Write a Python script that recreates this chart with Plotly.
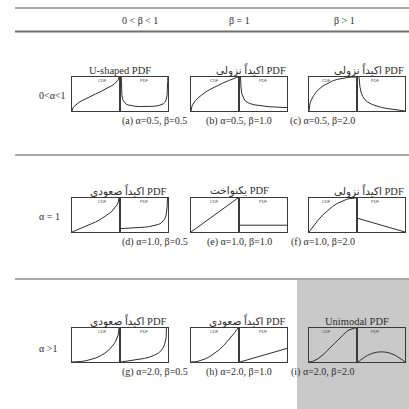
import plotly.graph_objects as go

# x positions along each small panel (0..1)
X_GRID = [0, 0.005, 0.01, 0.02, 0.04, 0.07, 0.1, 0.15, 0.2, 0.3, 0.4, 0.5,
          0.6, 0.7, 0.8, 0.85, 0.9, 0.93, 0.96, 0.98, 0.99, 0.995, 1]

# curves (CDF on 0..1, PDF on 0..5)
CDF_A = [0, .045, .064, .09, .128, .17, .205, .253, .295, .369, .436, .5,
         .564, .631, .705, .747, .795, .83, .872, .91, .936, .955, 1]
PDF_A = [6, 4.51, 3.2, 2.27, 1.62, 1.25, 1.06, .891, .796, .695, .65, .637,
         .65, .695, .796, .891, 1.06, 1.25, 1.62, 2.27, 3.2, 4.51, 6]
CDF_B = [0, .071, .1, .141, .2, .265, .316, .387, .447, .548, .632, .707,
         .775, .837, .894, .922, .949, .964, .98, .99, .995, .997, 1]
PDF_B = [7, 7.07, 5, 3.54, 2.5, 1.89, 1.58, 1.29, 1.12, .913, .791, .707,
         .645, .598, .559, .542, .527, .518, .51, .505, .503, .501, .5]
CDF_C = [0, .106, .15, .211, .296, .388, .459, .552, .626, .739, .822, .884,
         .93, .962, .984, .991, .996, .998, .999, 1, 1, 1, 1]
PDF_C = [7, 10.5, 7.43, 5.2, 3.6, 2.64, 2.13, 1.65, 1.34, .959, .711, .53,
         .387, .269, .168, .122, .079, .054, .031, .015, .008, .004, 0]
CDF_D = [0, .003, .005, .01, .02, .036, .051, .078, .106, .163, .225, .293,
         .368, .452, .553, .613, .684, .735, .8, .859, .9, .929, 1]
PDF_D = [.5, .501, .503, .505, .51, .518, .527, .542, .559, .598, .645, .707,
         .791, .913, 1.12, 1.29, 1.58, 1.89, 2.5, 3.54, 5, 7.07, 7]
CDF_E = [0, .005, .01, .02, .04, .07, .1, .15, .2, .3, .4, .5,
         .6, .7, .8, .85, .9, .93, .96, .98, .99, .995, 1]
PDF_E = [1, 1, 1, 1, 1, 1, 1, 1, 1, 1, 1, 1,
         1, 1, 1, 1, 1, 1, 1, 1, 1, 1, 1]
CDF_F = [0, .01, .02, .04, .078, .135, .19, .278, .36, .51, .64, .75,
         .84, .91, .96, .978, .99, .995, .998, 1, 1, 1, 1]
PDF_F = [2, 1.99, 1.98, 1.96, 1.92, 1.86, 1.8, 1.7, 1.6, 1.4, 1.2, 1,
         .8, .6, .4, .3, .2, .14, .08, .04, .02, .01, 0]
CDF_G = [0, 0, 0, 0, .001, .002, .004, .009, .016, .038, .071, .116,
         .178, .261, .374, .448, .541, .612, .704, .789, .851, .894, 1]
PDF_G = [0, .004, .008, .015, .031, .054, .079, .122, .168, .269, .387, .53,
         .711, .959, 1.34, 1.65, 2.13, 2.64, 3.6, 5.2, 7.42, 10.5, 12]
CDF_H = [0, 0, 0, 0, .002, .005, .01, .023, .04, .09, .16, .25,
         .36, .49, .64, .723, .81, .865, .922, .96, .98, .99, 1]
PDF_H = [0, .01, .02, .04, .08, .14, .2, .3, .4, .6, .8, 1,
         1.2, 1.4, 1.6, 1.7, 1.8, 1.86, 1.92, 1.96, 1.98, 1.99, 2]
CDF_I = [0, 0, 0, .001, .005, .014, .028, .061, .104, .216, .352, .5,
         .648, .784, .896, .939, .972, .986, .995, .999, 1, 1, 1]
PDF_I = [0, .03, .059, .118, .23, .391, .54, .765, .96, 1.26, 1.44, 1.5,
         1.44, 1.26, .96, .765, .54, .391, .23, .118, .059, .03, 0]

CDFS = [CDF_A, CDF_B, CDF_C, CDF_D, CDF_E, CDF_F, CDF_G, CDF_H, CDF_I]
PDFS = [PDF_A, PDF_B, PDF_C, PDF_D, PDF_E, PDF_F, PDF_G, PDF_H, PDF_I]

LETTERS = ["a", "b", "c", "d", "e", "f", "g", "h", "i"]
ALPHAS = ["0.5", "0.5", "0.5", "1.0", "1.0", "1.0", "2.0", "2.0", "2.0"]
BETAS = ["0.5", "1.0", "2.0", "0.5", "1.0", "2.0", "0.5", "1.0", "2.0"]
TITLES = ["U-shaped PDF", "اکیداً نزولی PDF", "اکیداً نزولی PDF",
          "اکیداً صعودی PDF", "یکنواخت PDF", "اکیداً نزولی PDF",
          "اکیداً صعودی PDF", "اکیداً صعودی PDF", "Unimodal PDF"]
COL_HEADERS = ["0 < β < 1", "β = 1", "β > 1"]
ROW_LABELS = ["0<α<1", "α = 1", "α >1"]

# pixel layout of the 409x409 page
W = H = 409
COL_LEFT = [72, 191, 309]
ROW_TOP = [77, 198, 328]
BOX_W, BOX_H, GAP = 47, 34, 2
ROW_LABEL_Y = [95, 217, 348]
FONT = "Liberation Serif, DejaVu Serif, DejaVu Sans"
INK = "#2e2e2e"


def fx(px):
    return px / W


def fy(py):
    return 1 - py / H


fig = go.Figure()
layout_axes = {}
annotations = []
shapes = []

# gray highlight behind panel (i)
shapes.append(dict(type="rect", xref="paper", yref="paper", x0=fx(297), x1=fx(409),
                   y0=fy(409), y1=fy(280), fillcolor="#c9c9c9", line_width=0, layer="below"))

# table rules
for y, w, c in [(8, 1.5, "#8c8c8c"), (31.5, 2, "#707070"), (155, 1.5, "#8c8c8c"), (279, 1.5, "#8c8c8c")]:
    shapes.append(dict(type="line", xref="paper", yref="paper", x0=fx(15), x1=1,
                       y0=fy(y), y1=fy(y), line=dict(color=c, width=w)))

ax_n = 0
for k in range(9):
    r, c = divmod(k, 3)
    left, top = COL_LEFT[c], ROW_TOP[r]
    for j, (ys, yr, tag) in enumerate([(CDFS[k], [0, 1], "CDF"), (PDFS[k], [0, 5], "PDF")]):
        ax_n += 1
        sfx = "" if ax_n == 1 else str(ax_n)
        x0 = left + j * (BOX_W + GAP)
        common = dict(showgrid=False, zeroline=False, showticklabels=False, ticks="",
                      showline=True, mirror=True, linecolor="#3a3a3a", linewidth=1,
                      fixedrange=True)
        layout_axes["xaxis" + sfx] = dict(domain=[fx(x0), fx(x0 + BOX_W)], range=[0, 1],
                                          anchor="y" + sfx, **common)
        layout_axes["yaxis" + sfx] = dict(domain=[fy(top + BOX_H), fy(top)], range=yr,
                                          anchor="x" + sfx, **common)
        fig.add_trace(go.Scatter(x=X_GRID, y=ys, mode="lines", xaxis="x" + sfx, yaxis="y" + sfx,
                                 line=dict(color=INK, width=1), hoverinfo="skip"))
        annotations.append(dict(text=tag, xref="paper", yref="paper", x=fx(x0 + BOX_W / 2),
                                y=fy(top + 3), showarrow=False, yanchor="middle",
                                font=dict(family="Arial, Liberation Sans", size=4, color="#444")))
    # panel title
    right_edge = left + 2 * BOX_W + GAP
    if "اکیداً" in TITLES[k]:
        tx, xa = fx(right_edge + 1), "right"
    else:
        tx, xa = fx(left + BOX_W + GAP / 2), "center"
    annotations.append(dict(text=TITLES[k], xref="paper", yref="paper", x=tx, xanchor=xa,
                            y=fy(top - 7), yanchor="middle", showarrow=False,
                            font=dict(family=FONT, size=10.5, color=INK)))
    # caption
    annotations.append(dict(text=f"({LETTERS[k]}) α={ALPHAS[k]}, β={BETAS[k]}", xref="paper",
                            yref="paper", x=fx(left + BOX_W + GAP / 2), y=fy(top + BOX_H + 10),
                            yanchor="middle", showarrow=False,
                            font=dict(family=FONT, size=10, color=INK)))

for c, txt in enumerate(COL_HEADERS):
    annotations.append(dict(text=txt, xref="paper", yref="paper", x=fx(COL_LEFT[c] + BOX_W + 1),
                            y=fy(20.5), yanchor="middle", showarrow=False,
                            font=dict(family=FONT, size=10, color=INK)))
for r, txt in enumerate(ROW_LABELS):
    annotations.append(dict(text=txt, xref="paper", yref="paper", x=fx(37), y=fy(ROW_LABEL_Y[r]),
                            yanchor="middle", showarrow=False,
                            font=dict(family=FONT, size=10, color=INK)))

fig.update_layout(width=W, height=H, margin=dict(l=0, r=0, t=0, b=0),
                  paper_bgcolor="white", plot_bgcolor="rgba(0,0,0,0)",
                  showlegend=False, shapes=shapes, annotations=annotations, **layout_axes)

# drop the browser's default page margin so the figure sits at the window's corner
fig.write_html("out.html", config={"displayModeBar": False},
               post_script="document.body.style.margin='0';document.body.style.overflow='hidden';")
